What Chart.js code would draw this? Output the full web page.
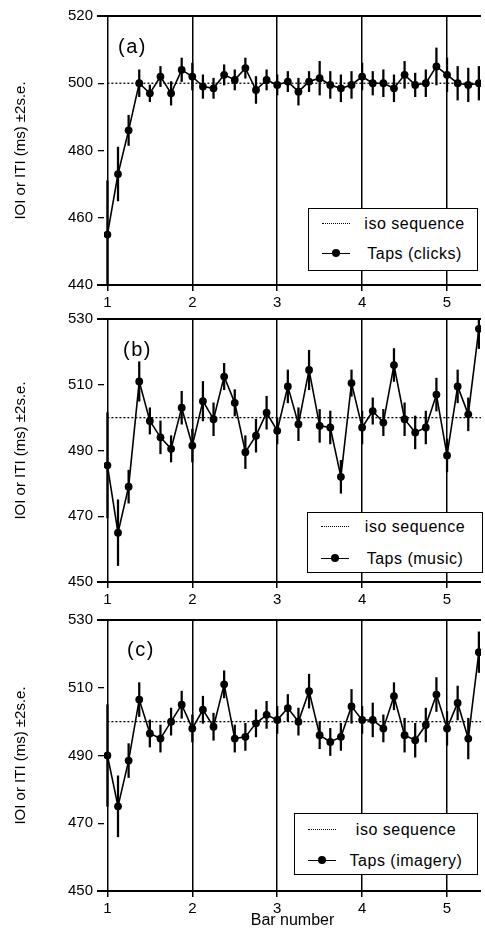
<!DOCTYPE html>
<html>
<head>
<meta charset="utf-8">
<script src="https://cdn.jsdelivr.net/npm/chart.js@4.4.1/dist/chart.umd.min.js"></script>
<style>
  body{margin:0;background:#fff;width:485px;height:940px;position:relative;overflow:hidden;
       font-family:"Liberation Sans",Arial,Helvetica,sans-serif;color:#000;}
  canvas{position:absolute;left:0;}
  .tag{position:absolute;font-size:20px;line-height:20px;letter-spacing:1.5px;}
  .legend{position:absolute;background:#fff;border:1.5px solid #000;box-sizing:border-box;
          font-size:16px;letter-spacing:0.5px;}
  .row{position:absolute;left:0;right:0;height:20px;}
  .dots{position:absolute;top:9px;width:28px;border-top:1.5px dotted #000;}
  .tap{position:absolute;top:9px;width:28px;border-top:1.6px solid #000;}
  .tap i{position:absolute;left:10px;top:-4.8px;width:8px;height:8px;border-radius:50%;background:#000;}
  .txt{position:absolute;top:0;line-height:20px;text-align:center;white-space:nowrap;}
</style>
</head>
<body>
<canvas id="chartA" width="485" height="312" style="top:0px"></canvas>
<canvas id="chartB" width="485" height="300" style="top:305px"></canvas>
<canvas id="chartC" width="485" height="334" style="top:606px"></canvas>

<div class="tag" style="left:118px;top:36px">(a)</div>
<div class="tag" style="left:123px;top:339px">(b)</div>
<div class="tag" style="left:127px;top:639px">(c)</div>

<div class="legend" style="left:308px;top:208px;width:170px;height:63px">
  <div class="row" style="top:5px"><span class="dots" style="left:13px"></span><span class="txt" style="left:49px;right:6px">iso sequence</span></div>
  <div class="row" style="top:35px"><span class="tap" style="left:13px"><i></i></span><span class="txt" style="left:49px;right:6px">Taps (clicks)</span></div>
</div>
<div class="legend" style="left:307px;top:512px;width:176px;height:61px">
  <div class="row" style="top:4px"><span class="dots" style="left:13px"></span><span class="txt" style="left:50px;right:10px">iso sequence</span></div>
  <div class="row" style="top:36px"><span class="tap" style="left:13px"><i></i></span><span class="txt" style="left:50px;right:10px">Taps (music)</span></div>
</div>
<div class="legend" style="left:294px;top:813px;width:184px;height:62px">
  <div class="row" style="top:6px"><span class="dots" style="left:13px"></span><span class="txt" style="left:48px;right:8px">iso sequence</span></div>
  <div class="row" style="top:37px"><span class="tap" style="left:13px"><i></i></span><span class="txt" style="left:48px;right:8px">Taps (imagery)</span></div>
</div>

<script>
// taps are eighth notes: 8 per bar, starting on bar 1
const tapsPerBar = 8;
const barTicks = [1, 2, 3, 4, 5];
const isoValue = 500;
const ticksA = [440, 460, 480, 500, 520];
const ticksBC = [450, 470, 490, 510, 530];

const tapsClicks = [455, 473, 486, 500, 497, 502, 497, 504, 502, 499, 498.5, 502.5,
  501, 504.5, 498, 501, 499.5, 500.5, 497.5, 500.5, 501.5, 499.5, 498.5, 499.5,
  502, 500, 500, 498.5, 502.5, 499.5, 500, 505, 502.5, 500, 499.5, 500];
const errClicks = [16, 8, 4.5, 4, 2.5, 3, 3.5, 3.5, 4, 3.5, 3, 3,
  3, 3, 4, 3, 3, 3, 4, 3, 5, 4, 4, 4,
  4, 3.5, 4, 4, 4, 3.5, 4, 5.5, 5, 5, 5, 5];

const tapsMusic = [485.5, 465, 479, 511, 499, 494, 490.5, 503, 491.5, 505, 499.5, 512.5,
  504.5, 489.5, 494.5, 501.5, 496, 509.5, 498, 514.5, 497.5, 497, 482, 510.5,
  497, 502, 498.5, 516, 499.5, 495.5, 497, 507, 488.5, 509.5, 501, 527];
const errMusic = [16, 10, 5, 6, 4, 5, 4, 5, 5, 6, 5, 4,
  4, 5, 5, 5, 4, 5, 5, 6, 5, 5, 5, 4,
  5, 4, 4, 5, 5, 5, 5, 5, 5, 5, 5, 6];

const tapsImagery = [490, 475, 488.5, 506.5, 496.5, 495, 500, 505, 498, 503.5, 498.5, 511,
  495, 495.5, 499.5, 502, 500.5, 504, 500, 509, 496, 494, 495.5, 504.5,
  500.5, 500.5, 498, 507.5, 496, 494.5, 499, 508, 498, 505.5, 495, 520.5];
const errImagery = [15, 9, 5, 5, 4, 4, 4, 4, 4, 4, 4, 4,
  4, 4, 4, 4, 4, 4, 4, 5, 4, 4, 4, 5,
  4, 5, 4, 4, 5, 5, 5, 5, 5, 5, 6, 6];

const xMin = 0.96, xMax = 5.4;

Chart.defaults.font.family = '"Liberation Sans", Arial, Helvetica, sans-serif';
Chart.defaults.color = '#000';

// top and bottom frame lines, running a little past the left edge
const framePlugin = {
  id: 'frame',
  afterDatasetsDraw(chart){
    const {ctx, chartArea: a} = chart;
    ctx.save();
    ctx.strokeStyle = '#000';
    ctx.lineWidth = 1.8;
    ctx.beginPath();
    ctx.moveTo(a.left - 7, a.top); ctx.lineTo(a.right, a.top);
    ctx.moveTo(a.left - 7, a.bottom); ctx.lineTo(a.right, a.bottom);
    ctx.stroke();
    ctx.restore();
  }
};

function tapPositions(n){
  return Array.from({length: n}, (_, i) => 1 + i / tapsPerBar);
}

function makePanel(id, values, errs, yTicks, padTop, xAxisH, showXTitle){
  const pos = tapPositions(values.length);
  return new Chart(document.getElementById(id), {
    type: 'line',
    data: {
      datasets: [
        {
          type: 'line',
          label: 'Taps',
          data: pos.map((x, i) => ({x, y: values[i]})),
          borderColor: '#000',
          borderWidth: 1.6,
          tension: 0,
          pointRadius: 3.9,
          pointBackgroundColor: '#000',
          pointBorderWidth: 0
        },
        {
          type: 'bar',
          label: '±2 s.e.',
          data: pos.map((x, i) => ({x, y: [values[i] - errs[i], values[i] + errs[i]]})),
          backgroundColor: '#000',
          barThickness: 1.6,
          grouped: false
        },
        {
          type: 'line',
          label: 'iso sequence',
          data: [{x: 1, y: isoValue}, {x: xMax, y: isoValue}],
          borderColor: '#000',
          borderWidth: 1.3,
          borderDash: [2, 2],
          pointRadius: 0
        }
      ]
    },
    options: {
      responsive: false,
      animation: false,
      layout: {padding: {top: padTop, right: 0, bottom: 0, left: 0}},
      plugins: {legend: {display: false}, tooltip: {enabled: false}},
      scales: {
        x: {
          type: 'linear',
          min: xMin,
          max: xMax,
          offset: false,
          afterBuildTicks: s => { s.ticks = barTicks.map(v => ({value: v})); },
          afterFit: s => { s.height = xAxisH; },
          grid: {offset: false, color: '#000', lineWidth: 1.5, tickLength: 6},
          border: {display: false},
          ticks: {font: {size: 15}, padding: 3, maxRotation: 0},
          title: {display: showXTitle, text: 'Bar number', font: {size: 16}, padding: {top: 0, bottom: 10}}
        },
        y: {
          min: yTicks[0],
          max: yTicks[yTicks.length - 1],
          afterBuildTicks: s => { s.ticks = yTicks.map(v => ({value: v})); },
          afterFit: s => { s.width = 104; },
          grid: {drawOnChartArea: false, color: '#000', lineWidth: 1.3, tickLength: 6},
          border: {display: false},
          ticks: {font: {size: 15}, padding: 5},
          title: {display: true, text: 'IOI or ITI (ms) ±2s.e.', font: {size: 15}, padding: {top: 12}}
        }
      }
    },
    plugins: [framePlugin]
  });
}

makePanel('chartA', tapsClicks, errClicks, ticksA, 16, 27, false);
makePanel('chartB', tapsMusic, errMusic, ticksBC, 13, 23, false);
makePanel('chartC', tapsImagery, errImagery, ticksBC, 14, 49, true);
</script>
</body>
</html>
